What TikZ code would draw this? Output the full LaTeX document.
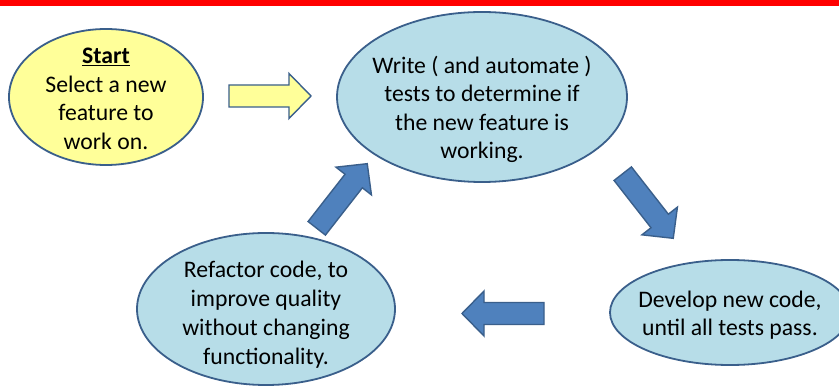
\documentclass[tikz,border=0pt]{standalone}
\usepackage{fontspec}
\setmainfont{Carlito}
\usetikzlibrary{shapes.geometric}

\definecolor{edgeblue}{HTML}{3A5F8B}
\definecolor{bubbleblue}{HTML}{B7DDE8}
\definecolor{arrowblue}{HTML}{4F81BD}
\definecolor{paleyellow}{HTML}{FFFF99}

\tikzset{
  pics/blockarrow/.style={code={
    \path[pic actions] (-41,-11) -- (19,-11) -- (19,-22.5) -- (41,0)
      -- (19,22.5) -- (19,11) -- (-41,11) -- cycle;
  }}
}

\begin{document}
\begin{tikzpicture}[x=1pt,y=-1pt,
    bubble/.style={ellipse, draw=edgeblue, line width=1.8pt, fill=bubbleblue, inner sep=0pt},
    startbubble/.style={bubble, fill=paleyellow},
    words/.style={align=center, inner sep=0pt, font=\fontsize{23.7}{28.5}\selectfont},
    fatarrow/.style={draw=edgeblue, line width=1.4pt, fill=arrowblue},
    yellowarrow/.style={fatarrow, fill=paleyellow}]
    \useasboundingbox (0,0) rectangle (839,387);
    \clip (0,0) rectangle (839,387);
    \fill[white] (0,0) rectangle (839,387);
    \fill[red] (0,0) rectangle (839,6.5);

    % the four steps of the cycle
    \node[startbubble, minimum width=194pt, minimum height=136pt] (start) at (106,97) {};
    \node[words] (starttext) at (106,99) {\textbf{\underline{Start}}\\Select a new\\feature to\\work on.};

    \node[bubble, minimum width=290pt, minimum height=170pt] (tests) at (482,97) {};
    \node[words] (teststext) at (482,109.5) {Write ( and automate )\\tests to determine if\\the new feature is\\working.};

    \node[bubble, minimum width=240pt, minimum height=105pt] (develop) at (730,312.5) {};
    \node[words] (developtext) at (730,315) {Develop new code,\\until all tests pass.};

    \node[bubble, minimum width=258pt, minimum height=152pt] (refactor) at (266,309) {};
    \node[words, font=\fontsize{23.7}{29.2}\selectfont] (refactortext) at (266,314.5) {Refactor code, to\\improve quality\\without changing\\functionality.};

    % block arrows between the steps
    \pic[yellowarrow] (go) at (270,96) {blockarrow};
    \pic[fatarrow, rotate=-52] (pass) at (648,206) {blockarrow};
    \pic[fatarrow, rotate=180] (clean) at (503,313.5) {blockarrow};
    \pic[fatarrow, rotate=52] (again) at (342,196) {blockarrow};
\end{tikzpicture}
\end{document}
